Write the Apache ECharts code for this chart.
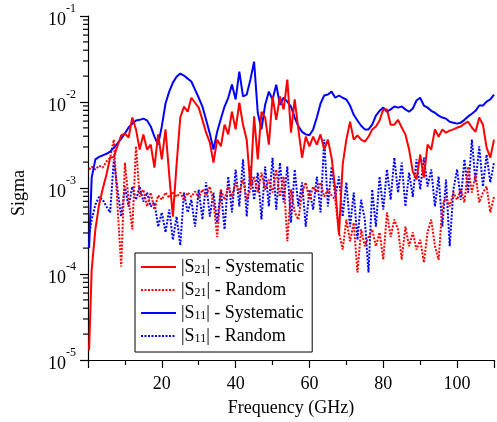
<!DOCTYPE html>
<html>
<head>
<meta charset="utf-8">
<script src="https://cdn.jsdelivr.net/npm/echarts@6.0.0/dist/echarts.min.js"></script>
<style>
  html, body { margin: 0; padding: 0; background: #fff; }
  #chart { width: 497px; height: 422px; }
</style>
</head>
<body>
<div id="chart"></div>
<script>
// Frequency grid (GHz)
const freq = [0.3,
  1,2,3,4,5,6,7,8,9,10,
  11,12,13,14,15,16,17,18,19,20,
  21,22,23,24,25,26,27,28,29,30,
  31,32,33,34,35,36,37,38,39,40,
  41,42,43,44,45,46,47,48,49,50,
  51,52,53,54,55,56,57,58,59,60,
  61,62,63,64,65,66,67,68,69,70,
  71,72,73,74,75,76,77,78,79,80,
  81,82,83,84,85,86,87,88,89,90,
  91,92,93,94,95,96,97,98,99,100,
  101,102,103,104,105,106,107,108,109,110];

// |S21| systematic uncertainty
const s21Sys = [1.3e-5,
  1.12e-4,3.3e-4,6.4e-4,9.8e-4,1.43e-3,2.25e-3,2.3e-3,3.1e-3,4.1e-3,4.3e-3,
  3.85e-3,6.6e-3,4.8e-3,2.8e-3,4.2e-3,2.8e-3,3.2e-3,1.73e-3,4.2e-3,2.15e-3,
  4.8e-3,1.43e-3,4.65e-4,1.87e-3,6.6e-3,8.85e-3,7.7e-3,1.12e-2,9.8e-3,8.6e-3,
  6.2e-3,4.4e-3,3.4e-3,1.97e-3,3.65e-3,3.05e-3,5.45e-3,4.2e-3,7.7e-3,4.8e-3,
  9.8e-3,5.45e-3,3.65e-3,1.04e-3,6.8e-3,2.15e-3,7.7e-3,6.6e-3,3.2e-3,1.16e-2,
  6.2e-3,1.16e-2,8.2e-3,1.82e-2,4.4e-3,1.07e-2,4.8e-3,2.25e-3,3.95e-3,3.05e-3,
  3.95e-3,3.2e-3,4.2e-3,2.8e-3,3.65e-3,2.25e-3,9.6e-4,2.85e-4,1.87e-3,3.65e-3,
  5.9e-3,3.65e-3,4.1e-3,3.65e-3,3.45e-3,3.95e-3,4.8e-3,5.2e-3,6.1e-3,8.2e-3,
  8.2e-3,5.45e-3,5.45e-3,6.2e-3,5.05e-3,4.2e-3,2.8e-3,1.55e-3,1.25e-3,2.45e-3,
  1.32e-3,3.2e-3,2.8e-3,4.8e-3,3.95e-3,4.8e-3,4.4e-3,4.65e-3,4.8e-3,5.05e-3,
  5.2e-3,5.6e-3,5.9e-3,5.05e-3,4.5e-3,6.6e-3,5.45e-3,2.95e-3,2.25e-3,3.65e-3];

// |S21| random uncertainty
const s21Rand = [1.64e-3,
  1.77e-3,1.64e-3,1.82e-3,1.73e-3,2.03e-3,2.25e-3,3.65e-3,6.1e-4,1.22e-4,1.97e-3,
  7.3e-4,3.3e-4,3.05e-3,7.9e-4,9.6e-4,6.1e-4,8.85e-4,5.6e-4,8.2e-4,7.3e-4,
  8.85e-4,7.7e-4,9.1e-4,7.9e-4,8.85e-4,7.3e-4,8.85e-4,7.9e-4,9.1e-4,7.7e-4,
  9.6e-4,8.2e-4,1.04e-3,6.8e-4,2.7e-4,9.6e-4,7.3e-4,1.04e-3,7.9e-4,1.16e-3,
  8.85e-4,1.25e-3,7.3e-4,9.6e-4,1.36e-3,8.85e-4,1.51e-3,9.6e-4,1.25e-3,8.85e-4,
  1.64e-3,7.9e-4,1.36e-3,2.4e-4,9.6e-4,5.2e-4,4.3e-4,8.85e-4,1.16e-3,7.3e-4,
  1.04e-3,8.85e-4,1.16e-3,7.9e-4,9.6e-4,8.2e-4,7.3e-4,3.05e-4,1.92e-4,4.3e-4,
  2.4e-4,3.95e-4,1.04e-4,3.3e-4,2.1e-4,2.7e-4,3.3e-4,2.1e-4,3.05e-4,1.47e-4,
  5.2e-4,2.7e-4,4.3e-4,3.3e-4,1.47e-4,3.55e-4,2.1e-4,3.05e-4,1.92e-4,2.5e-4,
  1.36e-4,3.05e-4,4.3e-4,2.1e-4,1.47e-4,6.1e-4,7.9e-4,6.1e-4,8.85e-4,7.3e-4,
  9.6e-4,6.8e-4,1.77e-3,8.85e-4,1.43e-3,6.8e-4,8.85e-4,1.04e-3,5.2e-4,7.9e-4];

// |S11| systematic uncertainty
const s11Sys = [2.0e-4,
  1.32e-3,2.15e-3,2.3e-3,2.4e-3,2.5e-3,2.65e-3,2.95e-3,3.3e-3,3.75e-3,4.3e-3,
  5.05e-3,5.6e-3,6.1e-3,6.2e-3,6.4e-3,6.1e-3,5.2e-3,3.95e-3,3.2e-3,5.2e-3,
  9.6e-3,1.32e-2,1.68e-2,1.97e-2,2.14e-2,2.03e-2,1.87e-2,1.73e-2,1.39e-2,1.12e-2,
  8.85e-3,6.2e-3,4.3e-3,2.8e-3,4.5e-3,6.4e-3,8.85e-3,1.12e-2,1.6e-2,1.07e-2,
  2.25e-2,1.16e-2,1.22e-2,1.82e-2,2.95e-2,7.5e-3,4.8e-3,9.3e-3,1.32e-2,1.07e-2,
  1.59e-2,9.3e-3,1.12e-2,1.01e-2,8.85e-3,6.6e-3,5.2e-3,4.5e-3,4.2e-3,4.1e-3,
  4.8e-3,6.6e-3,9.6e-3,1.19e-2,1.22e-2,1.32e-2,1.12e-2,1.19e-2,1.12e-2,1.07e-2,
  9.1e-3,7.1e-3,6.1e-3,5.3e-3,4.8e-3,4.8e-3,5.45e-3,6.95e-3,7.9e-3,8.6e-3,
  7.7e-3,8.2e-3,8.85e-3,8.6e-3,8.85e-3,8.2e-3,7.7e-3,8.4e-3,1.04e-2,1.12e-2,
  9.1e-3,8.6e-3,7.9e-3,7.5e-3,6.95e-3,6.6e-3,6.4e-3,5.9e-3,5.75e-3,5.6e-3,
  5.75e-3,6.2e-3,6.8e-3,7.3e-3,7.9e-3,9.1e-3,9.1e-3,1.01e-2,1.07e-2,1.22e-2];

// |S11| random uncertainty
const s11Rand = [2.8e-4,
  4.3e-4,6.4e-4,7.9e-4,7.3e-4,6.1e-4,5.2e-4,2.15e-3,9.6e-4,4.65e-4,1.04e-3,
  6.1e-4,1.04e-3,7.3e-4,1.04e-3,6.95e-4,8.85e-4,6.1e-4,6.8e-4,3.55e-4,5.2e-4,
  3.05e-4,5.6e-4,2.5e-4,4.65e-4,2.15e-4,8.85e-4,5.2e-4,7.3e-4,3.55e-4,9.6e-4,
  4.3e-4,1.16e-3,4.65e-4,8.85e-4,3.95e-4,9.6e-4,3.3e-4,1.36e-3,5.2e-4,1.64e-3,
  6.1e-4,2.15e-3,4.65e-4,1.77e-3,7.3e-4,1.51e-3,4.3e-4,1.77e-3,6.1e-4,2.25e-3,
  5.6e-4,1.97e-3,6.8e-4,1.77e-3,3.95e-4,1.64e-3,6.1e-4,1.16e-3,3.55e-4,9.6e-4,
  5.6e-4,1.36e-3,5.2e-4,3.65e-3,6.1e-4,1.77e-3,7.9e-4,1.36e-3,4.65e-4,1.16e-3,
  3.55e-4,8.85e-4,2.5e-4,7.3e-4,4.3e-4,1.04e-4,9.6e-4,3.55e-4,1.36e-3,5.6e-4,
  1.64e-3,7.3e-4,2.25e-3,8.85e-4,1.97e-3,6.1e-4,1.51e-3,7.9e-4,2.15e-3,9.6e-4,
  2.25e-3,1.04e-3,1.64e-3,6.1e-4,1.36e-3,3.55e-4,1.25e-3,2.1e-4,9.6e-4,1.64e-3,
  7.3e-4,2.15e-3,8.85e-4,3.65e-3,1.16e-3,3.05e-3,1.04e-3,2.45e-3,1.16e-3,1.97e-3];

const xTickLabels = [20, 40, 60, 80, 100];
const seriesNames = ['|S21| - Systematic', '|S21| - Random', '|S11| - Systematic', '|S11| - Random'];

const FONT = '"Liberation Serif", "Times New Roman", serif';
const RED = '#ff0000';
const BLUE = '#0000ff';

const pairs = (vals) => freq.map((f, i) => [f, vals[i]]);

// minor tick positions at 2..9 within each decade of the log axis
const minorTicks = [];
for (let e = -5; e < -1; e++) {
  for (let m = 2; m <= 9; m++) minorTicks.push(m * Math.pow(10, e));
}

const chart = echarts.init(document.getElementById('chart'), null, { renderer: 'canvas' });

chart.setOption({
  animation: false,
  backgroundColor: '#fff',
  grid: { left: 88, right: 0, top: 16, bottom: 62, containLabel: false },
  xAxis: {
    type: 'value',
    min: 0, max: 110, interval: 20,
    name: 'Frequency (GHz)',
    nameLocation: 'middle',
    nameGap: 39,
    nameTextStyle: { fontFamily: FONT, fontSize: 18, color: '#000' },
    axisLine: { show: true, lineStyle: { color: '#000', width: 1.2 } },
    axisTick: { show: true, length: 8, lineStyle: { color: '#000', width: 1.2 } },
    minorTick: { show: true, splitNumber: 2, length: 5, lineStyle: { color: '#000', width: 1.2 } },
    splitLine: { show: false },
    axisLabel: {
      margin: 15,
      fontFamily: FONT, fontSize: 18, color: '#000',
      formatter: (v) => xTickLabels.indexOf(v) >= 0 ? String(v) : ''
    }
  },
  yAxis: {
    type: 'log',
    logBase: 10,
    min: 1e-5, max: 1e-1,
    name: 'Sigma',
    nameLocation: 'middle',
    nameGap: 60,
    nameTextStyle: { fontFamily: FONT, fontSize: 18, color: '#000', padding: [0, 10, 0, 0] },
    axisLine: { show: true, lineStyle: { color: '#000', width: 1.2 } },
    axisTick: { show: true, length: 8, lineStyle: { color: '#000', width: 1.2 } },
    minorTick: { show: false },
    splitLine: { show: false },
    axisLabel: {
      margin: 12,
      color: '#000',
      formatter: (v) => '{b|10}{s|' + Math.round(Math.log10(v)) + '}',
      rich: {
        b: { fontFamily: FONT, fontSize: 18, color: '#000', padding: [8, 0, 0, 0] },
        s: { fontFamily: FONT, fontSize: 12, color: '#000', verticalAlign: 'top' }
      }
    }
  },
  legend: {
    orient: 'vertical',
    left: 135, top: 253,
    padding: [5, 8, 7, 5],
    borderColor: '#000', borderWidth: 1,
    itemWidth: 35, itemHeight: 18, itemGap: 5,
    itemStyle: { opacity: 0 },
    data: seriesNames,
    formatter: (name) => name.replace(/S(\d\d)/, 'S{sub|$1}'),
    textStyle: {
      fontFamily: FONT, fontSize: 18, color: '#000', lineHeight: 18,
      rich: {
        sub: { fontFamily: FONT, fontSize: 12, color: '#000', verticalAlign: 'bottom', lineHeight: 12 }
      }
    }
  },
  series: [
    {
      name: seriesNames[3], type: 'line', data: pairs(s11Rand),
      symbol: 'none', color: BLUE,
      lineStyle: { color: BLUE, width: 2, type: [2, 1.5] }
    },
    {
      name: seriesNames[1], type: 'line', data: pairs(s21Rand),
      symbol: 'none', color: RED,
      lineStyle: { color: RED, width: 2, type: [2, 1.5] }
    },
    {
      name: seriesNames[2], type: 'line', data: pairs(s11Sys),
      symbol: 'none', color: BLUE,
      lineStyle: { color: BLUE, width: 2 }
    },
    {
      name: seriesNames[0], type: 'line', data: pairs(s21Sys),
      symbol: 'none', color: RED,
      lineStyle: { color: RED, width: 2 }
    },
    {
      type: 'custom',
      silent: true,
      clip: false,
      z: 5,
      data: minorTicks.map((v) => [0, v]),
      renderItem: (params, api) => {
        const p = api.coord([api.value(0), api.value(1)]);
        return {
          type: 'line',
          shape: { x1: p[0] - 5, y1: p[1], x2: p[0], y2: p[1] },
          style: { stroke: '#000', lineWidth: 1.2 }
        };
      }
    }
  ]
});
</script>
</body>
</html>
